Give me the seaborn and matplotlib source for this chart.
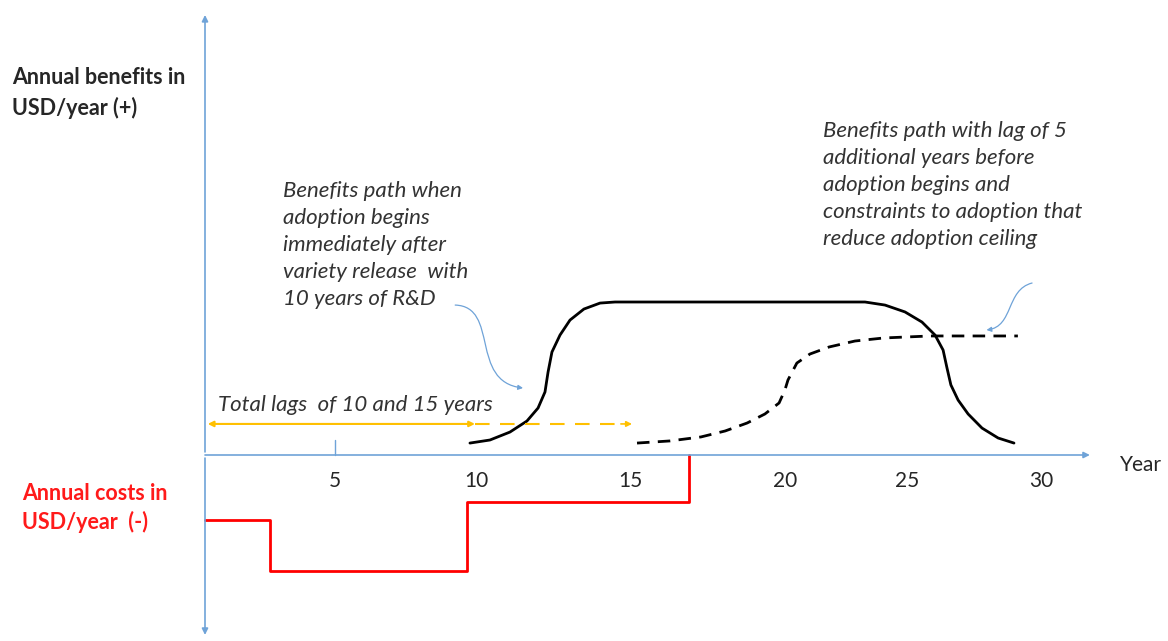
import numpy as np
import pandas as pd
import matplotlib
matplotlib.use("Agg")
import matplotlib.pyplot as plt
from matplotlib.path import Path
from matplotlib.patches import FancyArrowPatch
import seaborn as sns

sns.set_style("white")
plt.rcParams["font.family"] = ["Lato", "DejaVu Sans"]

# ---- data (years / benefit units) ----
solid_x = [9.53, 10.25, 10.97, 11.58, 11.98, 12.23, 12.34, 12.48, 12.77, 13.13,
           13.63, 14.21, 14.75, 23.74, 24.46, 25.18, 25.79, 26.26, 26.55, 26.69,
           26.83, 27.09, 27.45, 27.95, 28.53, 29.10]
solid_y = [7.8, 9.8, 15.0, 22.2, 30.7, 41.2, 54.2, 67.3, 78.4, 88.2,
           95.4, 99.3, 100.0, 100.0, 98.0, 93.5, 86.9, 78.4, 68.6, 56.9,
           45.8, 35.9, 26.8, 17.6, 11.1, 7.8]

lag_x = [15.54, 16.73, 17.84, 18.71, 19.50, 20.14, 20.65, 20.86, 20.97, 21.29,
         21.76, 22.45, 23.38, 24.42, 26.08, 29.24]
lag_y = [7.8, 9.2, 11.8, 15.7, 20.9, 26.8, 34.0, 42.5, 49.0, 60.1,
         66.0, 70.6, 74.5, 76.5, 77.8, 77.8]

cost_x = [0, 2.34, 9.42, 17.4]
cost_y = [-42.5, -76.0, -31.0, 0.0]

tick_pos = [4.68, 9.75, 15.29, 20.86, 25.25, 30.07]
tick_labels = ["5", "10", "15", "20", "25", "30"]

lag_short = 9.71
lag_long = 15.36

BLUE = "#6FA3D8"
ORANGE = "#FFC000"
TXT = "#262626"

fig = plt.figure(figsize=(11.68, 6.41), dpi=100)
ax = fig.add_axes([0, 0, 1, 1])
ax.set_xlim(-7.374, 34.64)
ax.set_ylim(-121.57, 297.39)
ax.axis("off")


def px(x, y):
    # pixel position -> figure fraction
    return x / 1168, 1 - y / 641


# ---- axes drawn as arrows ----
ax.annotate("", xy=(31.83, 0), xytext=(0, 0),
            arrowprops=dict(arrowstyle="-|>", color=BLUE, lw=1.2,
                            mutation_scale=9, shrinkA=0, shrinkB=0))
ax.annotate("", xy=(0, 287.6), xytext=(0, 2),
            arrowprops=dict(arrowstyle="-|>", color=BLUE, lw=1.2,
                            mutation_scale=9, shrinkA=0, shrinkB=0))
ax.annotate("", xy=(0, -117.6), xytext=(0, -2),
            arrowprops=dict(arrowstyle="-|>", color=BLUE, lw=1.2,
                            mutation_scale=9, shrinkA=0, shrinkB=0))
ax.plot([tick_pos[0], tick_pos[0]], [0, 9.8], color=BLUE, lw=1)

for p, lab in zip(tick_pos, tick_labels):
    ax.text(p, -17, lab, ha="center", va="center", fontsize=15, color=TXT)
fig.text(*px(1120, 465), "Year", ha="left", va="center", fontsize=15, color=TXT)

# ---- benefit paths ----
df_solid = pd.DataFrame({"year": solid_x, "benefit": solid_y})
df_lag = pd.DataFrame({"year": lag_x, "benefit": lag_y})
sns.lineplot(data=df_solid, x="year", y="benefit", sort=False, ax=ax,
             color="black", lw=2.0)
sns.lineplot(data=df_lag, x="year", y="benefit", sort=False, ax=ax,
             color="black", lw=2.0, linestyle=(0, (4.5, 3)))

# ---- costs ----
df_cost = pd.DataFrame({"year": cost_x, "cost": cost_y})
sns.lineplot(data=df_cost, x="year", y="cost", sort=False, ax=ax,
             color="#FF0000", lw=2.0, drawstyle="steps-post")

# ---- lag arrows ----
ax.annotate("", xy=(0.1, 20.3), xytext=(lag_short, 20.3),
            arrowprops=dict(arrowstyle="<|-|>", color=ORANGE, lw=1.5,
                            mutation_scale=8, shrinkA=0, shrinkB=0))
ax.plot([lag_short, lag_long - 0.2], [20.3, 20.3], color=ORANGE, lw=1.5,
        linestyle=(0, (7, 5)))
ax.annotate("", xy=(lag_long, 20.3), xytext=(lag_long - 0.4, 20.3),
            arrowprops=dict(arrowstyle="-|>", color=ORANGE, lw=1.2,
                            mutation_scale=8, shrinkA=0, shrinkB=0))

# ---- curly pointer arrows ----
p1 = Path([(9.0, 98), (10.6, 97), (9.5, 48), (11.44, 43.8)],
          [Path.MOVETO, Path.CURVE4, Path.CURVE4, Path.CURVE4])
ax.add_patch(FancyArrowPatch(path=p1, arrowstyle="-|>", color=BLUE, lw=0.9,
                             mutation_scale=7))
p2 = Path([(29.75, 112.4), (28.8, 108), (29.1, 84), (28.11, 81.7)],
          [Path.MOVETO, Path.CURVE4, Path.CURVE4, Path.CURVE4])
ax.add_patch(FancyArrowPatch(path=p2, arrowstyle="-|>", color=BLUE, lw=0.9,
                             mutation_scale=7))

# ---- labels ----
fig.text(*px(12, 93), "Annual benefits in\nUSD/year (+)", ha="left", va="center",
         fontsize=15.5, fontweight="bold", color=TXT, linespacing=1.5)
fig.text(*px(22, 508), "Annual costs in\nUSD/year  (-)", ha="left", va="center",
         fontsize=15.5, fontweight="bold", color="#FF1A1A", linespacing=1.4)

fig.text(*px(283, 245),
         "Benefits path when\nadoption begins\nimmediately after\n"
         "variety release  with\n10 years of R&D",
         ha="left", va="center", fontsize=16, style="italic", color="#333333",
         linespacing=1.45)
fig.text(*px(823, 185),
         "Benefits path with lag of 5\nadditional years before\nadoption begins and\n"
         "constraints to adoption that\nreduce adoption ceiling",
         ha="left", va="center", fontsize=16, style="italic", color="#333333",
         linespacing=1.45)
fig.text(*px(218, 405), "Total lags  of 10 and 15 years", ha="left", va="center",
         fontsize=16, style="italic", color="#333333")

plt.savefig("out.png", dpi=100)
plt.close()
